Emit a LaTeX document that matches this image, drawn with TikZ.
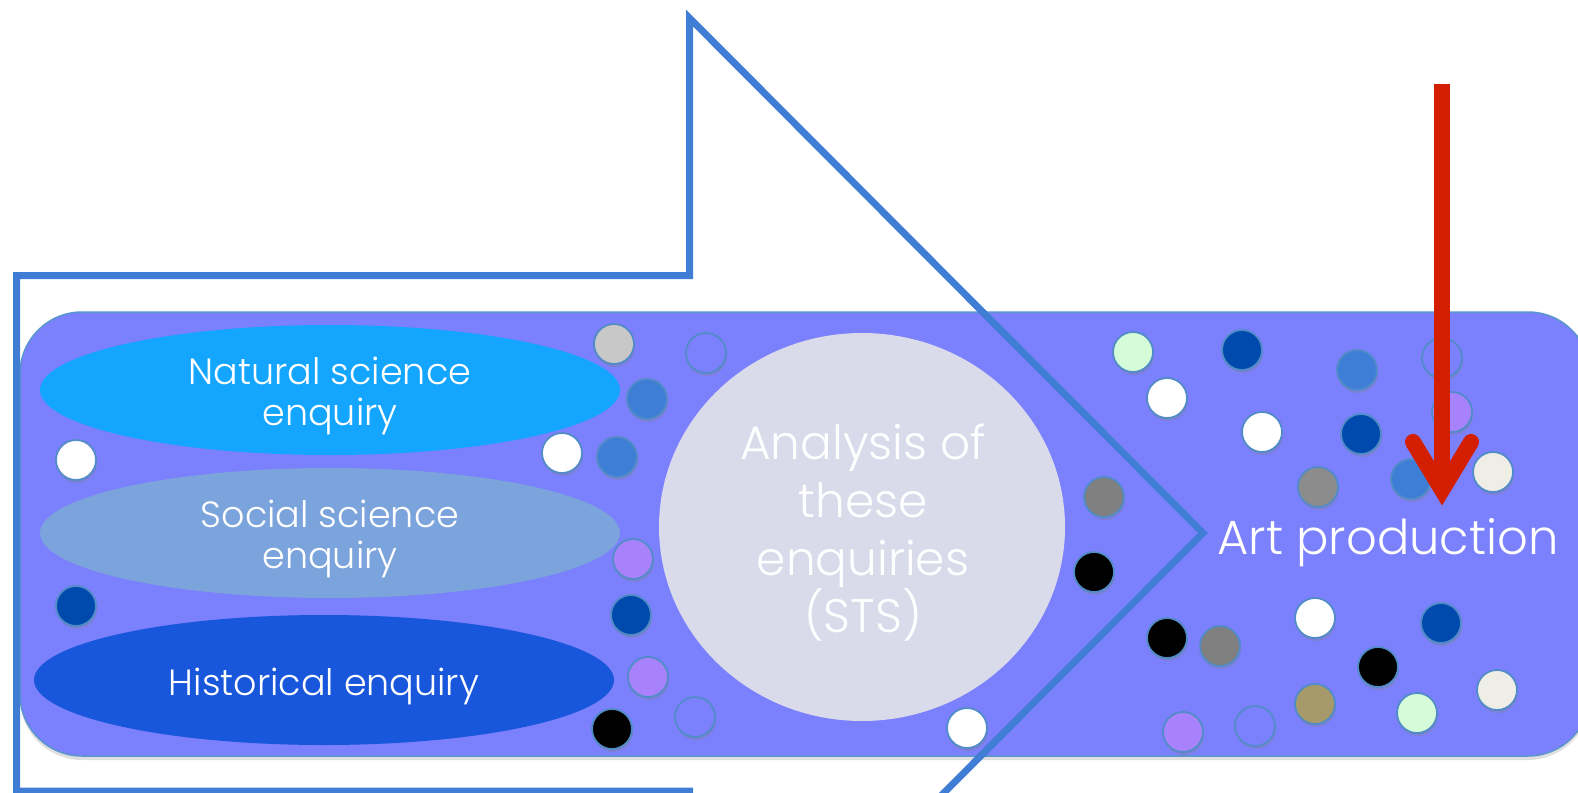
\documentclass[tikz,border=0pt]{standalone}
\usepackage{fontspec}
\setmainfont{Poppins}[UprightFont=* Light]
\usetikzlibrary{shapes.geometric,shadows}
\definecolor{boxfill}{RGB}{123,128,252}
\definecolor{boxline}{RGB}{90,150,205}
\definecolor{natural}{RGB}{20,165,255}
\definecolor{social}{RGB}{123,163,220}
\definecolor{historical}{RGB}{24,86,220}
\definecolor{analysis}{RGB}{217,219,235}
\definecolor{outline}{RGB}{64,126,214}
\definecolor{redarrow}{RGB}{212,30,0}
\definecolor{dotline}{RGB}{82,140,200}
\definecolor{dnavy}{RGB}{0,74,173}
\definecolor{dmid}{RGB}{63,126,214}
\definecolor{dgreya}{RGB}{200,200,200}
\definecolor{dgreyb}{RGB}{128,128,128}
\definecolor{dgreyc}{RGB}{140,140,140}
\definecolor{dlav}{RGB}{168,130,250}
\definecolor{dmint}{RGB}{212,252,216}
\definecolor{doff}{RGB}{238,238,230}
\definecolor{dkhaki}{RGB}{166,154,106}
\begin{document}
\begin{tikzpicture}[x=1pt,y=-1pt,
	dot/.style={draw=dotline,line width=1.8pt,drop shadow={shadow xshift=1pt,shadow yshift=-3pt,opacity=.3}},
	field/.style={ellipse,minimum width=580pt,minimum height=130pt,inner sep=0pt},
	fieldtext/.style={text=white,inner sep=0pt,align=center,font=\fontsize{36.5}{41}\selectfont},
	bigtext/.style={text=white,inner sep=0pt,align=center,font=\fontsize{47}{57.7}\selectfont}]
	\useasboundingbox (0,0) rectangle (1578,792);
	\filldraw[fill=boxfill,draw=boxline,line width=1.5pt,rounded corners=62pt,drop shadow={shadow xshift=0pt,shadow yshift=-4pt,opacity=.25}] (20,312) rectangle (1590,756);
	\node[field,fill=natural] (natural) at (330,390) {};
	\node[field,fill=social] (social) at (330,533) {};
	\node[field,fill=historical] (historical) at (324,680) {};
	\node[fieldtext] (naturaltext) at ([yshift=-6pt]natural.center) {Natural science\\enquiry};
	\node[fieldtext] (socialtext) at ([yshift=-6pt]social.center) {Social science\\enquiry};
	\node[fieldtext] (historicaltext) at ([yshift=-6pt]historical.center) {Historical enquiry};
	\node[ellipse,fill=analysis,minimum width=406pt,minimum height=388pt,inner sep=0pt] (analysis) at (862,527) {};
	\node[bigtext] (analysistext) at (863,533) {Analysis of\\these\\enquiries\\(STS)};
	\foreach \x/\y/\c in {76/460/white,76/606/dnavy,614/344/dgreya,706/353/boxfill,647/399/dmid,562/453/white,617/457/dmid,
		633/559/dlav,631/615/dnavy,648/677/dlav,695/717/boxfill,612/729/black,967/728/white,1104/497/dgreyb,1094/572/black,
		1133/352/dmint,1167/398/white,1242/350/dnavy,1357/370/dmid,1442/358/boxfill,1452/412/dlav,1262/432/white,1361/434/dnavy,
		1318/487/dgreyc,1411/479/dmid,1493/472/doff,1167/638/black,1220/646/dgreyb,1315/618/white,1441/623/dnavy,1378/667/black,
		1315/704/dkhaki,1497/690/doff,1417/713/dmint,1183/732/dlav,1255/726/boxfill}
		\filldraw[dot,fill=\c] (\x,\y) circle (20);
	\draw[outline,line width=7pt,line join=miter] (16.5,275.5) -- (689.5,275.5) -- (689.5,18) -- (1203,533) -- (689.5,1048) -- (689.5,791) -- (16.5,791) -- cycle;
	\node[text=white,inner sep=0pt,anchor=base,font=\fontsize{48}{56}\selectfont] (art) at (1388,554) {Art production};
	\coordinate (redtop) at (1442,84);
	\coordinate (redtip) at (1442,490);
	\draw[redarrow,line width=16pt] (redtop) -- (redtip);
	\draw[redarrow,line width=16pt,line cap=round,line join=miter] ([xshift=-29pt,yshift=48pt]redtip) -- (redtip) -- ([xshift=29pt,yshift=48pt]redtip);
\end{tikzpicture}
\end{document}
